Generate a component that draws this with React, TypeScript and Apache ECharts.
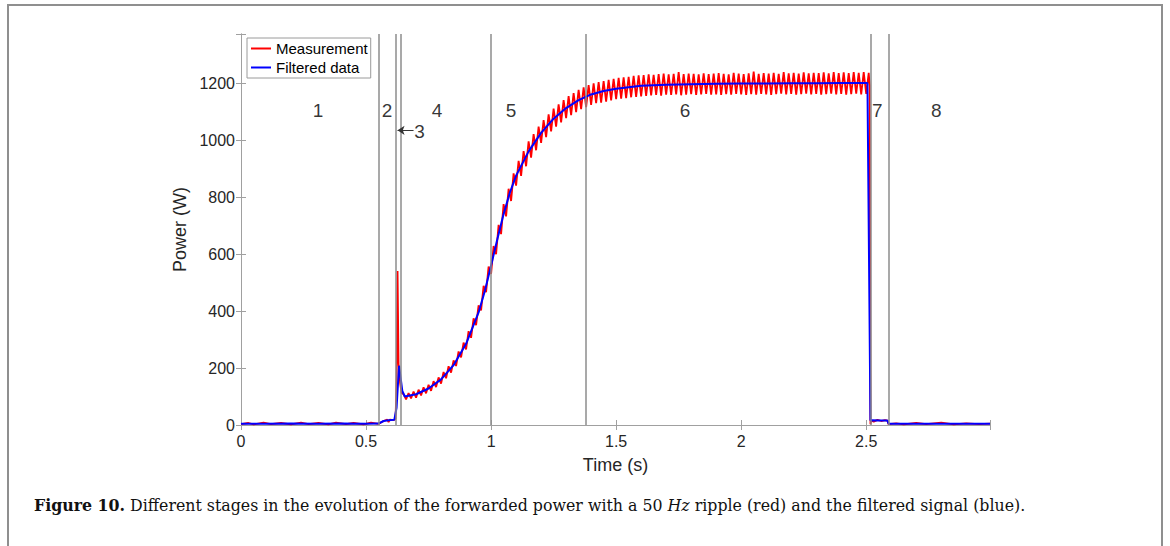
import React, { useEffect, useRef } from 'react';
import * as echarts from 'echarts';

// ---- axis / tick settings ----
const xMin = 0;
const xMax = 2.995;
const xInterval = 0.5;
const yMin = 0;
const yMax = 1372;
const yInterval = 200;

// ---- stage boundaries (s) and stage labels ----
const stageBounds = [0.552, 0.62, 0.637, 1.0, 1.38, 2.516, 2.587];
const stageLabels = ['1', '2', '4', '5', '6', '7', '8'];
const stageLabelT = [0.308, 0.584, 0.784, 1.08, 1.776, 2.544, 2.78];
const stageLabelP = 1105;
const stage3Label = { t: 0.714, p: 1030, text: '3' };
const stage3Arrow = { from: 0.69, to: 0.626, p: 1034 };

// ---- filtered data (blue) ----
const filteredT = [
  0, 0.1, 0.2, 0.3, 0.4, 0.5, 0.55, 0.57, 0.59, 0.613, 0.622, 0.632, 0.645, 0.655,
  0.7, 0.75, 0.8, 0.85, 0.9, 0.95, 0.975, 1.0, 1.025, 1.05, 1.075, 1.1, 1.15, 1.2, 1.25,
  1.3, 1.35, 1.4, 1.45, 1.5, 1.6, 1.7, 1.8, 1.9, 2.0, 2.1, 2.2, 2.3, 2.4, 2.505, 2.517,
  2.522, 2.56, 2.584, 2.59, 2.7, 2.8, 2.9, 2.995,
];
const filteredP = [
  4, 4, 5, 4, 5, 4, 5, 14, 17, 18, 60, 208, 120, 100,
  108, 128, 160, 210, 285, 395, 470, 560, 652, 740, 815, 875, 960, 1025, 1075,
  1112, 1140, 1160, 1172, 1180, 1190, 1194, 1196, 1197, 1198, 1198, 1199, 1199, 1200, 1200, 16,
  17, 16, 16, 4, 4, 4, 4, 4,
];

// ---- measurement (red) ----
// before the ripple (stage 1 noise, step and spike)
const measPreT = [
  0, 0.03, 0.05, 0.09, 0.12, 0.16, 0.2, 0.24, 0.27, 0.31, 0.35, 0.38, 0.42, 0.45, 0.49,
  0.52, 0.55, 0.57, 0.585, 0.59, 0.595, 0.61, 0.618, 0.622, 0.626, 0.63, 0.636, 0.642,
];
const measPreP = [
  3, 7, 2, 8, 3, 7, 2, 8, 3, 7, 2, 8, 3, 7, 2,
  8, 4, 14, 19, 10, 19, 17, 22, 150, 540, 215, 150, 112,
];
// 50 Hz ripple, sampled every 0.01 s from 0.65 s to 2.51 s
const rippleStart = 0.65;
const rippleStep = 0.01;
const rippleP = [
  108, 90, 112, 93, 117, 96,
  124, 104, 132, 111, 141,
  120, 154, 133, 167, 145,
  186, 164, 206, 184, 227,
  207, 258, 237, 289, 265,
  329, 306, 374, 350, 420,
  402, 488, 466, 556, 530,
  628, 599, 702, 670, 775,
  732, 829, 786, 883, 840,
  927, 874, 961, 908, 995,
  938, 1021, 964, 1047, 990,
  1070, 1010, 1090, 1030, 1110,
  1047, 1125, 1062, 1140, 1077,
  1154, 1087, 1165, 1098, 1176,
  1108, 1185, 1115, 1193, 1123,
  1199, 1129, 1203, 1131, 1207,
  1135, 1211, 1139, 1215, 1143,
  1218, 1145, 1220, 1147, 1222,
  1150, 1225, 1151, 1227, 1153,
  1228, 1155, 1230, 1157, 1229, 1158, 1231, 1156, 1233, 1159,
  1230, 1158, 1232, 1160, 1238, 1157, 1231, 1159, 1233, 1161,
  1232, 1158, 1230, 1160, 1234, 1162, 1231, 1159, 1233, 1160,
  1235, 1158, 1232, 1161, 1230, 1159, 1236, 1162, 1233, 1160,
  1231, 1158, 1234, 1161, 1240, 1159, 1232, 1162, 1235, 1160,
  1233, 1158, 1236, 1161, 1232, 1163, 1238, 1160, 1234, 1162,
  1236, 1159, 1233, 1161, 1237, 1163, 1234, 1160, 1236, 1162,
  1235, 1159, 1237, 1161, 1234, 1163, 1238, 1160, 1235, 1162,
  1237, 1159, 1235, 1161, 1238, 1163, 1236, 1160, 1238, 1162,
  1236,
];
// after switch-off
const measPostT = [2.514, 2.517, 2.52, 2.53, 2.545, 2.56, 2.575, 2.585, 2.589, 2.62, 2.65, 2.7, 2.74, 2.8, 2.85, 2.9, 2.95, 2.995];
const measPostP = [1190, 3, 15, 12, 18, 14, 17, 15, 3, 6, 2, 7, 3, 8, 2, 6, 3, 5];

const caption =
  '{b|Figure 10.} Different stages in the evolution of the forwarded power with a 50 {i|Hz} ripple (red) and the filtered signal (blue).';

const SANS = '"Liberation Sans", Arial, Helvetica, sans-serif';
const SERIF = '"DejaVu Serif", "Liberation Serif", serif';
const AXIS_GRAY = '#a0a0a0';
const TEXT = '#262626';
const CAPTION_SIZE = 15.8;

function buildOption() {
  const filtered = filteredT.map((t, i) => [t, filteredP[i]]);
  const measured: number[][] = [];
  measPreT.forEach((t, i) => measured.push([t, measPreP[i]]));
  rippleP.forEach((p, i) => measured.push([+(rippleStart + i * rippleStep).toFixed(3), p]));
  measPostT.forEach((t, i) => measured.push([t, measPostP[i]]));

  const isMultiple = (v: number, step: number) => Math.abs(v / step - Math.round(v / step)) < 1e-6;

  const baseX = {
    type: 'value' as const,
    min: xMin,
    max: xMax,
    interval: xInterval,
    splitLine: { show: false },
    axisLine: { show: true, lineStyle: { color: AXIS_GRAY, width: 1 } },
    axisTick: { show: true, inside: true, length: 5, lineStyle: { color: AXIS_GRAY } },
  };
  const baseY = {
    type: 'value' as const,
    min: yMin,
    max: yMax,
    interval: yInterval,
    splitLine: { show: false },
    axisLine: { show: true, lineStyle: { color: AXIS_GRAY, width: 1 } },
    axisTick: { show: true, inside: true, length: 5, lineStyle: { color: AXIS_GRAY } },
  };

  return {
    animation: false,
    backgroundColor: '#ffffff',
    grid: { left: 241, top: 34, right: 180, bottom: 121, containLabel: false },
    legend: {
      data: ['Measurement', 'Filtered data'],
      left: 247,
      top: 38,
      orient: 'vertical',
      itemWidth: 20,
      itemHeight: 14,
      itemGap: 4,
      padding: [3, 3, 3, 3],
      borderColor: '#9a9a9a',
      borderWidth: 1,
      backgroundColor: '#ffffff',
      itemStyle: { opacity: 0 },
      textStyle: { fontFamily: SANS, fontSize: 15, color: '#000' },
    },
    xAxis: [
      {
        ...baseX,
        position: 'bottom',
        name: 'Time (s)',
        nameLocation: 'middle',
        nameGap: 31,
        nameTextStyle: { fontFamily: SANS, fontSize: 18, color: TEXT },
        axisLabel: {
          fontFamily: SANS,
          fontSize: 16,
          color: TEXT,
          margin: 8,
          formatter: (v: number) => (isMultiple(v, xInterval) ? String(v) : ''),
        },
      },
      { ...baseX, position: 'top', axisLabel: { show: false } },
    ],
    yAxis: [
      {
        ...baseY,
        position: 'left',
        name: 'Power (W)',
        nameLocation: 'middle',
        nameGap: 42,
        nameTextStyle: { fontFamily: SANS, fontSize: 18, color: TEXT },
        axisLabel: {
          fontFamily: SANS,
          fontSize: 16,
          color: TEXT,
          margin: 6,
          formatter: (v: number) => (isMultiple(v, yInterval) ? String(v) : ''),
        },
      },
      { ...baseY, position: 'right', axisLabel: { show: false } },
    ],
    series: [
      {
        name: 'stages',
        type: 'line',
        data: [],
        z: 1,
        markLine: {
          silent: true,
          symbol: ['none', 'none'],
          label: { show: false },
          lineStyle: { color: '#8c8c8c', width: 1.5, type: 'solid' },
          data: stageBounds.map((t) => ({ xAxis: t })),
        },
      },
      {
        name: 'arrow',
        type: 'line',
        data: [],
        z: 6,
        markLine: {
          silent: true,
          symbol: ['none', 'arrow'],
          symbolSize: 7,
          label: { show: false },
          lineStyle: { color: '#333', width: 1, type: 'solid' },
          data: [[{ coord: [stage3Arrow.from, stage3Arrow.p] }, { coord: [stage3Arrow.to, stage3Arrow.p] }]],
        },
      },
      {
        name: 'Measurement',
        type: 'line',
        data: measured,
        symbol: 'none',
        showSymbol: false,
        z: 3,
        lineStyle: { color: '#ff0000', width: 1.8 },
        itemStyle: { color: '#ff0000' },
      },
      {
        name: 'Filtered data',
        type: 'line',
        data: filtered,
        symbol: 'none',
        showSymbol: false,
        z: 4,
        lineStyle: { color: '#0000ff', width: 2 },
        itemStyle: { color: '#0000ff' },
      },
      {
        name: 'labels',
        type: 'scatter',
        symbolSize: 0,
        z: 5,
        silent: true,
        data: [
          ...stageLabelT.map((t, i) => [t, stageLabelP, stageLabels[i]]),
          [stage3Label.t, stage3Label.p, stage3Label.text],
        ],
        label: {
          show: true,
          position: 'inside',
          formatter: (p: any) => p.data[2],
          fontFamily: SANS,
          fontSize: 19,
          color: '#000',
        },
      },
    ],
    graphic: [
      {
        type: 'rect',
        silent: true,
        shape: { x: 8, y: 5, width: 1154, height: 600 },
        style: { fill: 'none', stroke: '#8f8f8f', lineWidth: 2 },
      },
      {
        type: 'text',
        left: 34,
        top: 497,
        style: {
          text: caption,
          fontFamily: SERIF,
          fontSize: CAPTION_SIZE,
          fill: '#111',
          rich: {
            b: { fontWeight: 'bold', fontFamily: SERIF, fontSize: CAPTION_SIZE, fill: '#111' },
            i: { fontStyle: 'italic', fontFamily: SERIF, fontSize: CAPTION_SIZE, fill: '#111' },
          },
        },
      },
    ],
  };
}

export default function App() {
  const ref = useRef<HTMLDivElement>(null);
  useEffect(() => {
    if (!ref.current) return;
    const chart = echarts.init(ref.current, undefined, { renderer: 'svg' });
    chart.setOption(buildOption() as any);
    return () => chart.dispose();
  }, []);
  return (
    <div
      ref={ref}
      style={{ position: 'absolute', left: 0, top: 0, width: 1170, height: 546, background: '#fff' }}
    />
  );
}
